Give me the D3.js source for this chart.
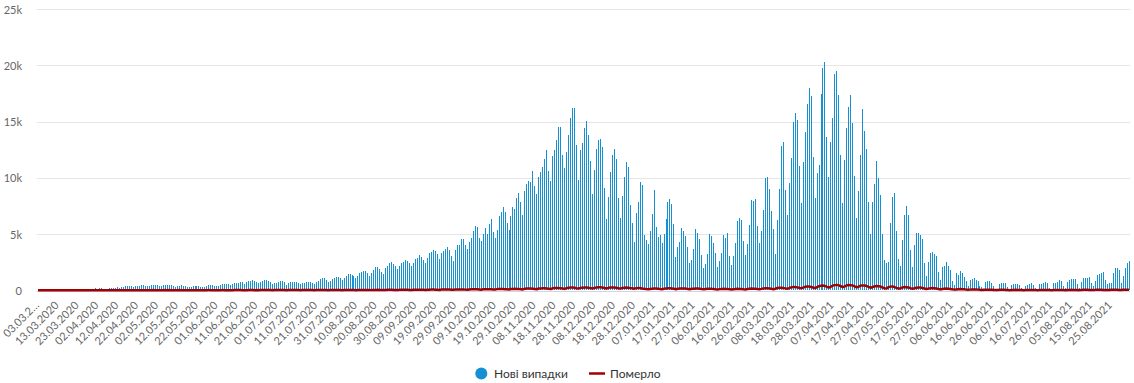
<!DOCTYPE html>
<html><head><meta charset="utf-8">
<script src="https://cdn.jsdelivr.net/npm/d3@7"></script>
<style>
html,body{margin:0;padding:0;background:#fff;}
svg{display:block;font-family:Lato,"Open Sans",sans-serif;}
</style></head>
<body><svg id="chart" width="1134" height="383"></svg>
<script>
// Daily new cases, starting 03.03.2020, one value per day (rows = weeks Tue..Mon)
const newCases = [
1,0,0,0,0,0,0,
0,0,1,1,0,1,2,
7,2,10,13,6,17,26,
29,43,57,100,62,73,69,
94,170,127,186,197,128,115,
150,190,200,230,240,260,190,
270,330,390,360,400,390,260,
380,420,400,460,450,420,370,
400,460,450,500,480,420,340,
430,470,500,510,470,390,330,
380,420,440,420,400,320,260,
290,380,420,400,370,300,250,
330,380,440,470,430,390,340,
380,460,520,560,580,540,430,
600,620,640,680,720,760,600,
780,810,860,900,850,760,640,
780,850,920,880,840,760,540,
660,640,720,810,800,720,480,
640,730,750,780,770,650,560,
640,680,760,780,720,640,580,
760,870,1000,1100,1080,900,740,
850,1000,1090,1180,1200,1090,900,
1100,1270,1440,1490,1320,1280,1070,
1270,1500,1600,1750,1710,1500,1250,
1500,1830,2100,2110,1930,1650,1470,
1950,2150,2440,2480,2330,2140,1900,
2140,2400,2520,2720,2630,2430,2140,
2410,2750,2900,3140,3000,2700,2430,
2900,3280,3370,3580,3510,3200,2750,
3300,3500,3680,3830,3590,3065,2619,
3601,3988,4047,4583,4583,4047,3690,
4315,4672,5297,5744,5654,4672,4404,
5029,5565,5029,5922,6369,5208,4672,
5387,6636,6994,7440,6994,6012,5387,
6636,7440,7262,8244,8690,7886,6726,
8868,9493,9761,9672,10654,9315,8601,
10118,10565,11011,11725,12440,10654,9761,
11904,12440,13332,14493,14493,11993,10922,
12261,13779,15297,16190,16190,12886,9850,
12440,13065,14404,15029,13779,11547,8601,
10743,12529,13332,13422,12708,9136,6369,
8333,10565,11993,12529,11725,8244,6458,
8422,10118,11457,11011,7619,6012,4315,
6904,7886,9672,9404,4940,4494,4137,
5297,6815,8958,5654,4762,4940,4226,
5029,6369,7886,8154,7708,5922,2976,
3869,4315,5565,5297,4851,3869,2440,
2708,3690,5476,5119,4583,3155,1994,
2351,3244,5029,4851,4226,3333,2083,
2619,3333,4940,4672,5119,3065,2262,
3065,4226,6190,6458,6279,4404,3155,
4137,5773,8035,7946,8124,5714,4226,
5268,7142,10000,10089,9017,7053,5446,
3214,6250,9017,12856,13213,8928,6696,
9553,11785,14999,15803,15178,11071,7767,
11428,14106,16606,18035,17320,11874,8214,
10446,11160,17499,19820,20267,13660,10089,
13213,15356,19284,19552,17410,12053,7767,
11606,14463,16338,17410,14910,10178,6428,
8839,12053,16160,14196,12588,7857,5000,
7857,9464,11517,10000,8482,5000,2678,
2411,2500,5982,8303,8660,5268,2768,
2172,4494,6726,7529,6726,3601,2083,
4047,5119,5119,4940,4583,2440,1280,
2529,3333,3423,3244,3065,1637,922,
2083,2172,2529,2172,1815,833,476,
1548,1369,1726,1548,1190,833,387,
922,1012,1101,922,833,387,268,
149,744,833,833,655,387,149,
140,565,655,655,655,268,140,
476,565,565,565,476,179,140,
387,476,565,655,476,179,140,
565,565,655,744,655,179,140,
655,655,744,922,833,357,179,
744,922,1012,1012,1012,565,179,
744,1101,1131,1131,1220,655,357,
833,1369,1458,1548,1637,922,565,
655,655,1548,1994,1994,1815,655,
1280,1994,2440,2619
];
// Daily deaths, same days
const deaths = [
0,0,0,0,0,0,0,
0,0,1,0,0,0,0,
0,0,1,0,0,1,0,
1,2,1,0,2,1,1,
4,2,3,3,5,5,2,
5,7,5,8,4,8,5,
7,6,13,6,7,12,6,
9,15,13,11,13,10,9,
10,14,17,13,14,9,7,
13,16,12,17,15,15,11,
13,17,10,12,11,13,6,
12,10,15,13,11,11,10,
8,14,16,15,13,12,10,
13,15,16,14,13,11,8,
13,17,20,19,18,14,9,
14,18,20,21,15,17,10,
20,18,22,21,23,19,11,
17,18,21,19,20,16,11,
16,19,24,21,18,17,10,
18,20,24,25,22,17,12,
20,25,23,26,22,19,13,
19,21,25,24,23,22,14,
24,26,30,28,27,22,15,
25,30,28,32,29,25,16,
32,35,33,38,35,30,19,
35,40,42,38,36,30,22,
38,44,45,47,41,34,26,
46,52,55,54,48,40,30,
55,58,64,64,60,51,36,
62,68,73,72,69,55,39,
71,74,80,78,75,60,44,
80,85,90,93,87,71,52,
91,100,104,101,95,80,61,
105,111,117,109,102,85,67,
118,124,131,124,116,100,78,
135,150,160,158,140,118,92,
160,170,180,178,165,140,110,
190,210,214,202,186,160,125,
200,224,245,239,223,185,160,
218,234,245,253,235,196,163,
215,255,268,264,245,205,160,
220,245,260,255,230,190,150,
200,230,245,230,200,180,140,
190,215,200,160,130,110,100,
120,140,160,150,130,110,100,
140,170,180,175,160,130,100,
145,165,170,160,150,120,90,
130,145,155,150,140,110,85,
115,135,140,130,125,100,80,
105,125,130,120,110,95,75,
100,120,135,125,115,95,80,
110,140,150,145,130,110,90,
125,170,180,175,160,130,100,
140,200,230,220,200,170,130,
200,260,290,285,260,220,170,
240,310,335,330,300,250,190,
280,365,400,420,385,310,240,
330,430,460,480,440,360,280,
350,450,470,460,420,340,270,
330,420,430,420,380,300,230,
290,360,380,360,330,250,180,
160,280,330,330,290,220,160,
170,260,300,280,250,190,140,
180,230,250,240,210,160,110,
150,190,200,190,170,120,80,
110,140,150,140,120,90,60,
80,100,110,100,90,60,40,
60,75,80,70,60,40,25,
45,55,60,50,45,30,20,
35,40,45,40,35,25,15,
30,35,38,35,30,20,12,
25,30,32,30,28,18,12,
28,32,35,30,28,18,12,
30,34,36,33,30,20,14,
32,36,40,35,30,22,15,
35,40,42,38,33,24,16,
38,44,46,42,36,25,18,
30,45,50,48,40,28,20,
45,55,58,57
];
// x tick labels (every 10th day)
const tickLabels = ["03.03.2…","13.03.2020","23.03.2020","02.04.2020","12.04.2020","22.04.2020","02.05.2020","12.05.2020","22.05.2020","01.06.2020","11.06.2020","21.06.2020","01.07.2020","11.07.2020","21.07.2020","31.07.2020","10.08.2020","20.08.2020","30.08.2020","09.09.2020","19.09.2020","29.09.2020","09.10.2020","19.10.2020","29.10.2020","08.11.2020","18.11.2020","28.11.2020","08.12.2020","18.12.2020","28.12.2020","07.01.2021","17.01.2021","27.01.2021","06.02.2021","16.02.2021","26.02.2021","08.03.2021","18.03.2021","28.03.2021","07.04.2021","17.04.2021","27.04.2021","07.05.2021","17.05.2021","27.05.2021","06.06.2021","16.06.2021","26.06.2021","06.07.2021","16.07.2021","26.07.2021","05.08.2021","15.08.2021","25.08.2021"];
const tickStep = 10;
const yTicks = [0,5000,10000,15000,20000,25000];
const yTickLabels = ["0","5k","10k","15k","20k","25k"];
const seriesNames = ["Нові випадки","Померло"];

const BLUE = "#1590d3", RED = "#a30000";
const svg = d3.select("#chart");
const N = newCases.length;
const GL = 36.7, GR = 1130, T = 9.3, B = 290.3;
const x = d3.scaleBand().domain(d3.range(N)).range([37.02, 37.02 + 1.9873 * N]).padding(0);
const y = d3.scaleLinear().domain([0,25000]).range([B, T]);
const cx = i => x(i) + x.bandwidth()/2;

// grid
svg.append("g").selectAll("line").data(yTicks.slice(1)).join("line")
  .attr("x1", GL).attr("x2", GR)
  .attr("y1", d => Math.round(y(d)) + 0.5).attr("y2", d => Math.round(y(d)) + 0.5)
  .attr("stroke", "#e6e6e6").attr("stroke-width", 1);
// y labels
svg.append("g").selectAll("text").data(yTicks).join("text")
  .attr("x", 22).attr("y", d => y(d) + 4.5)
  .attr("text-anchor", "end").attr("font-size", 11).attr("fill", "#666")
  .text((d,i) => yTickLabels[i]);
// x axis line
svg.append("line").attr("x1", GL).attr("x2", GR).attr("y1", 291.5).attr("y2", 291.5)
  .attr("stroke", "#ccd6eb").attr("stroke-width", 1);
// bars
svg.append("g").attr("shape-rendering","crispEdges").selectAll("rect").data(newCases).join("rect")
  .attr("x", (d,i) => Math.round(cx(i) - 0.5))
  .attr("width", 1)
  .attr("y", d => y(d))
  .attr("height", d => B - y(d))
  .attr("fill", BLUE);
// deaths line
svg.append("path").datum(deaths)
  .attr("d", d3.line().x((d,i) => cx(i)).y(d => y(d)))
  .attr("fill", "none").attr("stroke", RED).attr("stroke-width", 2.5)
  .attr("stroke-linejoin", "round");
// x labels
svg.append("g").selectAll("text").data(tickLabels).join("text")
  .attr("text-anchor", "end").attr("font-size", 11).attr("fill", "#666")
  .attr("transform", (d,k) => `translate(${cx(k*tickStep) + 1.7},306) rotate(-45)`)
  .text(d => d);
// legend
const lg = svg.append("g").attr("font-size", 12).attr("fill", "#333");
lg.append("circle").attr("cx", 481.3).attr("cy", 373.5).attr("r", 6).attr("fill", BLUE);
lg.append("text").attr("x", 494).attr("y", 377.5).text(seriesNames[0]);
lg.append("line").attr("x1", 589).attr("x2", 605).attr("y1", 373.5).attr("y2", 373.5)
  .attr("stroke", RED).attr("stroke-width", 2.5);
lg.append("text").attr("x", 610).attr("y", 377.5).text(seriesNames[1]);
</script></body></html>
